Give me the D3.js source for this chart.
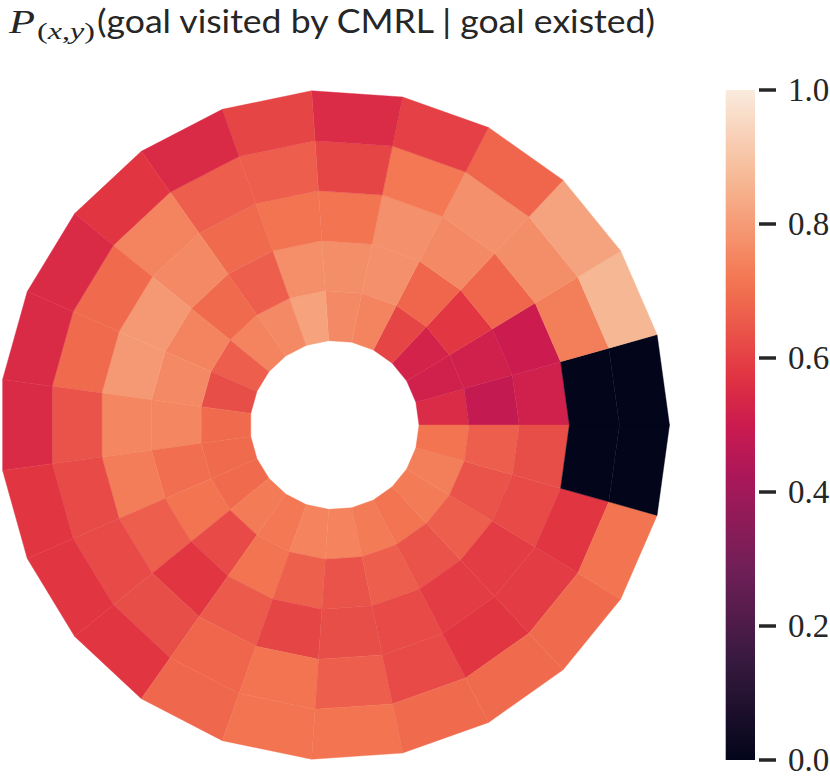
<!DOCTYPE html>
<html>
<head>
<meta charset="utf-8">
<script src="https://cdn.jsdelivr.net/npm/d3@7"></script>
<style>
	body { margin: 0; background: #fff; }
</style>
</head>
<body>
<div id="chart"></div>
<script>
// Probability per polar cell, one array per ring (inner -> outer),
// 23 angular bins each, counter-clockwise starting at east.
var ring0 = [0.55, 0.515, 0.525, 0.61, 0.747, 0.76, 0.815, 0.76, 0.747, 0.664, 0.63, 0.69, 0.69, 0.69, 0.728, 0.72, 0.745, 0.745, 0.728, 0.71, 0.728, 0.736, 0.71];
var ring1 = [0.48, 0.515, 0.58, 0.68, 0.775, 0.77, 0.772, 0.664, 0.69, 0.747, 0.76, 0.75, 0.70, 0.71, 0.62, 0.71, 0.67, 0.64, 0.664, 0.64, 0.664, 0.64, 0.665];
var ring2 = [0.515, 0.50, 0.68, 0.76, 0.775, 0.71, 0.71, 0.69, 0.76, 0.795, 0.795, 0.75, 0.73, 0.664, 0.575, 0.655, 0.61, 0.63, 0.62, 0.59, 0.59, 0.62, 0.63];
var ring3 = [0, 0.736, 0.77, 0.775, 0.72, 0.61, 0.664, 0.664, 0.747, 0.69, 0.69, 0.64, 0.62, 0.62, 0.63, 0.68, 0.71, 0.664, 0.62, 0.575, 0.59, 0.575, 0];
var ring4 = [0, 0.867, 0.818, 0.68, 0.60, 0.55, 0.61, 0.548, 0.575, 0.548, 0.548, 0.548, 0.575, 0.575, 0.575, 0.684, 0.71, 0.71, 0.69, 0.69, 0.69, 0.71, 0];
var rings = [ring0, ring1, ring2, ring3, ring4];

var colorTicks = [0.0, 0.2, 0.4, 0.6, 0.8, 1.0];
var tickLabels = ["0.0", "0.2", "0.4", "0.6", "0.8", "1.0"];

// seaborn "rocket" approximated by a few samples of it
var rocketPos = [0, 1 / 7, 2 / 7, 3 / 7, 0.5, 4 / 7, 5 / 7, 6 / 7, 1];
var rocketStops = ["#03051a", "#35193e", "#701f57", "#ad1759", "#cb1b4f", "#e13342", "#f37651", "#f6b48f", "#faebdd"];

var width = 830, height = 778;
var cx = 334.5, cy = 425;
var rInner = 84.5, rOuter = 335;
var nBins = ring0.length, nRings = rings.length;

var svg = d3.select("#chart").append("svg")
	.attr("width", width)
	.attr("height", height);

var color = d3.scaleLinear()
	.domain(rocketPos)
	.range(rocketStops)
	.interpolate(d3.interpolateRgb)
	.clamp(true);

var theta = d3.scaleLinear().domain([0, nBins]).range([0, 2 * Math.PI]);
var radius = d3.scaleLinear().domain([0, nRings]).range([rInner, rOuter]);

function pt(ri, bi) {
	var r = radius(ri), t = theta(bi);
	return [cx + r * Math.cos(t), cy - r * Math.sin(t)];
}

// build the cells: straight-edged quads like pcolormesh on polar axes
var cells = [];
rings.forEach(function(vals, ri){
	vals.forEach(function(v, bi){
		cells.push({ ring: ri, bin: bi, value: v });
	});
});

svg.append("g")
	.attr("id", "cells")
	.selectAll("path")
	.data(cells)
	.enter().append("path")
	.attr("d", function(d){
		return d3.line()([
			pt(d.ring, d.bin),
			pt(d.ring + 1, d.bin),
			pt(d.ring + 1, d.bin + 1),
			pt(d.ring, d.bin + 1)
		]) + "Z";
	})
	.attr("fill", function(d){ return color(d.value); })
	.attr("stroke", function(d){ return color(d.value); })
	.attr("stroke-width", 0.4);

// Colorbar
var cbX = 725.7, cbW = 29.3, cbTop = 90, cbBottom = 760;
var cbScale = d3.scaleLinear().domain([0, 1]).range([cbBottom, cbTop]);

var grad = svg.append("defs").append("linearGradient")
	.attr("id", "rocket")
	.attr("x1", 0).attr("y1", 1)
	.attr("x2", 0).attr("y2", 0);
d3.range(0, 1.0001, 0.02).forEach(function(t){
	grad.append("stop")
		.attr("offset", t)
		.attr("stop-color", color(t));
});

svg.append("rect")
	.attr("x", cbX)
	.attr("y", cbTop)
	.attr("width", cbW)
	.attr("height", cbBottom - cbTop)
	.attr("fill", "url(#rocket)");

var axis = svg.append("g").attr("id", "cbar-axis");
colorTicks.forEach(function(t, i){
	var y = cbScale(t);
	axis.append("line")
		.attr("x1", 759).attr("x2", 776)
		.attr("y1", y).attr("y2", y)
		.attr("stroke", "#262626")
		.attr("stroke-width", 3.5);
	axis.append("text")
		.attr("x", 788)
		.attr("y", y + 11)
		.attr("font-family", "'Liberation Serif', 'DejaVu Serif', serif")
		.attr("font-size", 33)
		.attr("fill", "#262626")
		.text(tickLabels[i]);
});

// Title: P_{(x,y)}(goal visited by CMRL | goal existed)
var title = svg.append("g").attr("id", "title").attr("fill", "#262626");
title.append("text")
	.attr("x", 9).attr("y", 33)
	.attr("font-family", "'Liberation Serif', 'DejaVu Serif', serif")
	.attr("font-style", "italic")
	.attr("font-size", 34)
	.attr("textLength", 26)
	.attr("lengthAdjust", "spacingAndGlyphs")
	.text("P");
var sub = title.append("text")
	.attr("x", 37).attr("y", 39)
	.attr("font-family", "'Liberation Serif', 'DejaVu Serif', serif")
	.attr("font-size", 23)
	.attr("textLength", 58)
	.attr("lengthAdjust", "spacingAndGlyphs");
sub.append("tspan").text("(");
sub.append("tspan").attr("font-style", "italic").text("x");
sub.append("tspan").text(",");
sub.append("tspan").attr("font-style", "italic").text("y");
sub.append("tspan").text(")");
title.append("text")
	.attr("x", 97).attr("y", 33)
	.attr("font-family", "Lato, 'DejaVu Sans', sans-serif")
	.attr("font-size", 32)
	.attr("textLength", 558)
	.attr("lengthAdjust", "spacingAndGlyphs")
	.text("(goal visited by CMRL | goal existed)");
</script>
</body>
</html>
